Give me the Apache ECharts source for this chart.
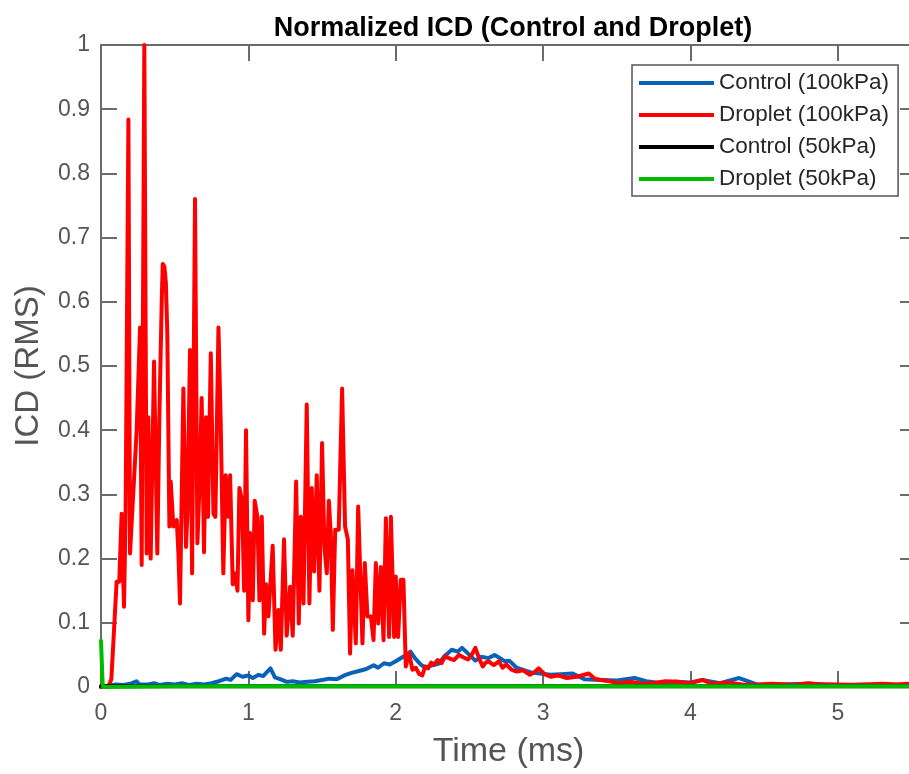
<!DOCTYPE html>
<html>
<head>
<meta charset="utf-8">
<script src="https://cdn.jsdelivr.net/npm/echarts@6/dist/echarts.min.js"></script>
<style>
html, body { margin: 0; padding: 0; overflow: hidden; background: #fff; }
#chart { width: 930px; height: 774px; }
</style>
</head>
<body>
<div id="chart"></div>
<script>
// ---- data ----
var titleText = 'Normalized ICD (Control and Droplet)';
var xName = 'Time (ms)';
var yName = 'ICD (RMS)';
var seriesNames = ['Control (100kPa)', 'Droplet (100kPa)', 'Control (50kPa)', 'Droplet (50kPa)'];

var blueTime = [0, 0.05, 0.1, 0.15, 0.2, 0.24, 0.26, 0.32, 0.36, 0.4, 0.45, 0.5, 0.55, 0.6, 0.65, 0.7, 0.75, 0.8, 0.85, 0.88, 0.92, 0.96, 1.0, 1.03, 1.07, 1.1, 1.15, 1.18, 1.22, 1.26, 1.3, 1.35, 1.4, 1.45, 1.5, 1.55, 1.6, 1.65, 1.7, 1.75, 1.8, 1.85, 1.88, 1.92, 1.96, 2.0, 2.05, 2.1, 2.13, 2.17, 2.2, 2.25, 2.29, 2.33, 2.38, 2.42, 2.45, 2.5, 2.54, 2.58, 2.63, 2.67, 2.7, 2.74, 2.77, 2.82, 2.885, 2.93, 2.98, 3.05, 3.12, 3.2, 3.28, 3.39, 3.5, 3.62, 3.7, 3.8, 3.9, 4.0, 4.08, 4.2, 4.33, 4.45, 4.6, 4.8, 5.0, 5.2, 5.53];
var blueValue = [0, 0.002, 0.004, 0.003, 0.005, 0.009, 0.004, 0.004, 0.006, 0.003, 0.005, 0.004, 0.006, 0.003, 0.005, 0.004, 0.006, 0.009, 0.013, 0.011, 0.02, 0.016, 0.018, 0.014, 0.019, 0.017, 0.029, 0.015, 0.012, 0.008, 0.009, 0.007, 0.008, 0.009, 0.011, 0.013, 0.012, 0.018, 0.022, 0.025, 0.028, 0.034, 0.03, 0.037, 0.035, 0.04, 0.047, 0.055, 0.045, 0.035, 0.03, 0.034, 0.036, 0.048, 0.058, 0.055, 0.061, 0.05, 0.041, 0.047, 0.045, 0.05, 0.046, 0.04, 0.041, 0.03, 0.025, 0.022, 0.021, 0.019, 0.02, 0.021, 0.012, 0.011, 0.01, 0.014, 0.009, 0.006, 0.008, 0.007, 0.011, 0.006, 0.014, 0.004, 0.004, 0.005, 0.003, 0.004, 0.003];

var redTime = [0, 0.05, 0.07, 0.084, 0.106, 0.124, 0.14, 0.156, 0.167, 0.186, 0.197, 0.208, 0.242, 0.265, 0.276, 0.294, 0.31, 0.321, 0.337, 0.36, 0.382, 0.396, 0.412, 0.419, 0.43, 0.44, 0.45, 0.464, 0.473, 0.491, 0.514, 0.525, 0.536, 0.559, 0.577, 0.586, 0.604, 0.618, 0.638, 0.654, 0.668, 0.683, 0.699, 0.713, 0.726, 0.745, 0.763, 0.776, 0.797, 0.812, 0.83, 0.846, 0.864, 0.876, 0.894, 0.91, 0.926, 0.939, 0.957, 0.971, 0.984, 1.0, 1.012, 1.03, 1.043, 1.061, 1.075, 1.091, 1.107, 1.12, 1.136, 1.165, 1.184, 1.204, 1.22, 1.242, 1.26, 1.283, 1.301, 1.324, 1.342, 1.356, 1.374, 1.396, 1.414, 1.43, 1.446, 1.464, 1.482, 1.5, 1.516, 1.532, 1.546, 1.559, 1.573, 1.589, 1.613, 1.636, 1.656, 1.675, 1.69, 1.706, 1.729, 1.745, 1.774, 1.79, 1.808, 1.831, 1.849, 1.865, 1.881, 1.899, 1.917, 1.933, 1.955, 1.967, 1.978, 1.989, 2.0, 2.016, 2.034, 2.052, 2.068, 2.09, 2.113, 2.136, 2.16, 2.18, 2.2, 2.22, 2.24, 2.26, 2.285, 2.31, 2.335, 2.36, 2.395, 2.43, 2.46, 2.49, 2.515, 2.54, 2.565, 2.59, 2.61, 2.63, 2.665, 2.7, 2.725, 2.75, 2.785, 2.82, 2.865, 2.91, 2.94, 2.97, 3.01, 3.05, 3.1, 3.16, 3.23, 3.31, 3.35, 3.39, 3.45, 3.51, 3.6, 3.67, 3.74, 3.83, 3.92, 4.0, 4.08, 4.15, 4.25, 4.35, 4.43, 4.55, 4.7, 4.8, 4.89, 5.0, 5.1, 5.21, 5.3, 5.4, 5.53];
var redValue = [0, 0, 0.012, 0.07, 0.164, 0.164, 0.27, 0.125, 0.27, 0.884, 0.208, 0.208, 0.40, 0.56, 0.19, 1.0, 0.208, 0.42, 0.20, 0.507, 0.208, 0.42, 0.60, 0.659, 0.655, 0.63, 0.55, 0.25, 0.32, 0.25, 0.26, 0.21, 0.13, 0.465, 0.218, 0.27, 0.525, 0.177, 0.76, 0.224, 0.31, 0.45, 0.21, 0.42, 0.265, 0.52, 0.27, 0.265, 0.56, 0.415, 0.177, 0.33, 0.265, 0.33, 0.16, 0.177, 0.15, 0.31, 0.29, 0.15, 0.40, 0.104, 0.24, 0.135, 0.29, 0.265, 0.135, 0.265, 0.083, 0.16, 0.11, 0.22, 0.058, 0.12, 0.058, 0.23, 0.08, 0.156, 0.08, 0.32, 0.099, 0.265, 0.13, 0.44, 0.13, 0.31, 0.18, 0.33, 0.15, 0.38, 0.218, 0.177, 0.29, 0.24, 0.089, 0.245, 0.245, 0.465, 0.25, 0.23, 0.052, 0.182, 0.068, 0.281, 0.068, 0.193, 0.11, 0.11, 0.073, 0.193, 0.099, 0.187, 0.073, 0.263, 0.078, 0.265, 0.265, 0.078, 0.172, 0.078, 0.167, 0.167, 0.032, 0.053, 0.027, 0.03, 0.02, 0.018, 0.032, 0.029, 0.038, 0.035, 0.042, 0.037, 0.048, 0.045, 0.042, 0.05, 0.046, 0.043, 0.05, 0.061, 0.045, 0.032, 0.038, 0.04, 0.034, 0.04, 0.03, 0.035, 0.027, 0.024, 0.026, 0.019, 0.023, 0.029, 0.02, 0.016, 0.018, 0.014, 0.016, 0.021, 0.013, 0.011, 0.009, 0.006, 0.008, 0.005, 0.006, 0.009, 0.008, 0.006, 0.011, 0.005, 0.007, 0.004, 0.003, 0.005, 0.003, 0.006, 0.004, 0.004, 0.003, 0.004, 0.005, 0.004, 0.006];

var blackTime = [0, 0.5, 1, 1.5, 2, 2.5, 3, 3.5, 4, 4.5, 5, 5.53];
var blackValue = [0.001, 0.001, 0.001, 0.001, 0.001, 0.001, 0.001, 0.001, 0.001, 0.001, 0.001, 0.001];

var greenTime = [0, 0.012, 0.5, 1, 1.5, 2, 2.5, 3, 3.5, 4, 4.5, 5, 5.53];
var greenValue = [0.072, 0, 0.001, 0.001, 0.001, 0.001, 0.001, 0.001, 0.001, 0.001, 0.001, 0.001, 0.001];

var xTicks = [0, 1, 2, 3, 4, 5];
var yTicks = [0, 0.1, 0.2, 0.3, 0.4, 0.5, 0.6, 0.7, 0.8, 0.9, 1];

// ---- build ----
function pairs(t, v) { return t.map(function (x, i) { return [x, v[i]]; }); }
var FONT = "'Liberation Sans', Arial, Helvetica, sans-serif";
var AX = '#6b6b6b';
var colors = ['#0a62b8', '#ff0000', '#000000', '#00bb00'];
var seriesData = [pairs(blueTime, blueValue), pairs(redTime, redValue), pairs(blackTime, blackValue), pairs(greenTime, greenValue)];

var xMin = xTicks[0], xMax = 5.53, xStep = xTicks[1] - xTicks[0];
var yMin = yTicks[0], yMax = yTicks[yTicks.length - 1], yStep = 0.1;

function fmtX(v) { return (Math.abs(v - Math.round(v)) < 1e-9) ? String(Math.round(v)) : ''; }
function fmtY(v) { var r = Math.round(v * 10) / 10; return String(r); }

var chart = echarts.init(document.getElementById('chart'), null, { renderer: 'canvas' });
chart.setOption({
  animation: false,
  backgroundColor: '#ffffff',
  title: {
    text: titleText,
    left: 508, top: 10, textAlign: 'center',
    textStyle: { fontFamily: FONT, fontSize: 27, fontWeight: 'bold', color: '#000' }
  },
  grid: { left: 101, right: 14, top: 45, bottom: 87, show: false },
  legend: {
    data: seriesNames,
    orient: 'vertical',
    left: 632, top: 65,
    icon: 'rect',
    itemWidth: 75, itemHeight: 4,
    itemGap: 8,
    padding: [6, 9, 5, 7],
    borderColor: '#555', borderWidth: 1.5, backgroundColor: '#fff',
    textStyle: { fontFamily: FONT, fontSize: 22.5, color: '#262626', lineHeight: 24 }
  },
  xAxis: [{
    type: 'value', min: xMin, max: xMax, interval: xStep,
    name: xName, nameLocation: 'middle', nameGap: 48,
    nameTextStyle: { fontFamily: FONT, fontSize: 34, color: '#555' },
    axisLine: { show: true, onZero: false, lineStyle: { color: AX, width: 2 } },
    axisTick: { show: true, inside: true, length: 16, lineStyle: { color: AX, width: 2 } },
    axisLabel: { fontFamily: FONT, fontSize: 23, color: '#555', margin: 15, formatter: fmtX, showMaxLabel: false },
    splitLine: { show: false }
  }, {
    type: 'value', min: xMin, max: xMax, interval: xStep, position: 'top',
    axisLine: { show: true, onZero: false, lineStyle: { color: AX, width: 2 } },
    axisTick: { show: true, inside: true, length: 16, lineStyle: { color: AX, width: 2 } },
    axisLabel: { show: false }, splitLine: { show: false }
  }],
  yAxis: [{
    type: 'value', min: yMin, max: yMax, interval: yStep,
    name: yName, nameLocation: 'middle', nameGap: 56, nameRotate: 90,
    nameTextStyle: { fontFamily: FONT, fontSize: 33, color: '#555' },
    axisLine: { show: true, onZero: false, lineStyle: { color: AX, width: 2 } },
    axisTick: { show: true, inside: true, length: 16, lineStyle: { color: AX, width: 2 } },
    axisLabel: { fontFamily: FONT, fontSize: 23, color: '#555', margin: 11, formatter: fmtY },
    splitLine: { show: false }
  }, {
    type: 'value', min: yMin, max: yMax, interval: yStep, position: 'right',
    axisLine: { show: true, onZero: false, lineStyle: { color: AX, width: 2 } },
    axisTick: { show: true, inside: true, length: 16, lineStyle: { color: AX, width: 2 } },
    axisLabel: { show: false }, splitLine: { show: false }
  }],
  series: seriesNames.map(function (name, i) {
    return {
      name: name, type: 'line', data: seriesData[i],
      xAxisIndex: 0, yAxisIndex: 0,
      showSymbol: false, symbol: 'none',
      color: colors[i],
      lineStyle: { color: colors[i], width: 4, cap: 'round', join: 'round' },
      z: 2 + i
    };
  })
});
</script>
</body>
</html>
